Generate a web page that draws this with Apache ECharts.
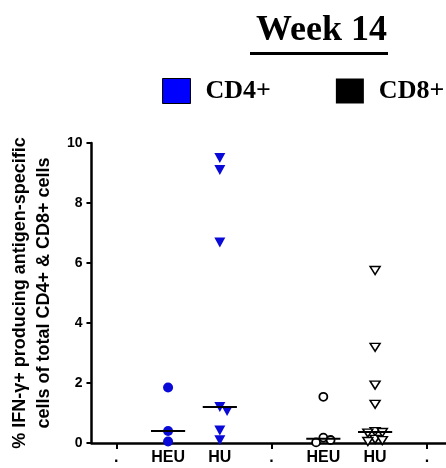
<!DOCTYPE html>
<html>
<head>
<meta charset="utf-8">
<script src="https://cdn.jsdelivr.net/npm/echarts@6/dist/echarts.min.js"></script>
<style>
  html, body { margin: 0; padding: 0; background: #fff; }
  #chart { width: 446px; height: 468px; }
</style>
</head>
<body>
<div id="chart"></div>
<script>
// x positions of the groups on the axis ("." are the separator ticks)
const categories = ['.', 'HEU', 'HU', '.', 'HEU', 'HU', '.'];
const separatorTicks = [0, 3, 6];

// % IFN-γ+ values
const cd4Heu = [1.85, 0.40, 0.05];
const cd4Hu = [9.5, 9.1, 6.68, 1.2, 1.07, 0.42, 0.09];
const cd8Heu = [1.54, 0.18, 0.1, 0.02];
const cd8Hu = [5.75, 3.19, 1.93, 1.29, 0.38, 0.35, 0.33, 0.12, 0.08, 0.05];

const yTicks = [0, 2, 4, 6, 8, 10];

const BLUE = '#0a0ad8';

const median = (vals) => {
  const s = [...vals].sort((a, b) => a - b);
  const m = Math.floor(s.length / 2);
  return s.length % 2 ? s[m] : (s[m - 1] + s[m]) / 2;
};

// simple column-scatter spread so overlapping points sit side by side
const spread = (vals, center) => {
  const pxX = 52, pxY = 30, step = 0.14, minDist = 7;
  const placed = [];
  [...vals].sort((a, b) => b - a).forEach((v) => {
    const tries = [0, step, -step, 2 * step, -2 * step];
    let off = 0;
    for (const t of tries) {
      const hit = placed.some(
        (p) => Math.hypot((p[0] - (center + t)) * pxX, (p[1] - v) * pxY) < minDist
      );
      if (!hit) { off = t; break; }
    }
    placed.push([center + off, v]);
  });
  return placed;
};

const medianLine = (vals, center) => {
  const m = median(vals);
  return [[center - 0.33, m], [center + 0.33, m]];
};

const groups = [
  { name: 'CD4+', vals: cd4Heu, x: 1, symbol: 'circle', size: 10, fill: BLUE, border: BLUE, bw: 0, rot: 0 },
  { name: 'CD4+', vals: cd4Hu, x: 2, symbol: 'triangle', size: [11, 10], fill: BLUE, border: BLUE, bw: 0, rot: 180 },
  { name: 'CD8+', vals: cd8Heu, x: 4, symbol: 'circle', size: 8, fill: '#fff', border: '#000', bw: 1.8, rot: 0 },
  { name: 'CD8+', vals: cd8Hu, x: 5, symbol: 'triangle', size: [10, 8], fill: '#fff', border: '#000', bw: 1.5, rot: 180 },
];

const series = [];
groups.forEach((g) => {
  series.push({
    name: g.name,
    type: 'scatter',
    symbol: g.symbol,
    symbolSize: g.size,
    symbolRotate: g.rot,
    itemStyle: { color: g.fill, borderColor: g.border, borderWidth: g.bw, opacity: 1 },
    data: spread(g.vals, g.x),
    z: 3,
  });
});
groups.forEach((g) => {
  series.push({
    name: 'median',
    type: 'line',
    symbol: 'none',
    lineStyle: { color: '#000', width: 2 },
    data: medianLine(g.vals, g.x),
    z: 4,
  });
});

const chart = echarts.init(document.getElementById('chart'));
chart.setOption({
  animation: false,
  backgroundColor: '#fff',
  title: {
    text: 'Week 14',
    left: 251,
    top: 8,
    textStyle: { fontFamily: 'Liberation Serif', fontWeight: 'bold', fontSize: 36, color: '#000' },
  },
  graphic: [
    { type: 'rect', shape: { x: 250, y: 52, width: 138, height: 3 }, style: { fill: '#000' } },
  ],
  legend: {
    orient: 'horizontal',
    left: 162,
    top: 78,
    width: 284,
    padding: 0,
    icon: 'rect',
    itemWidth: 28,
    itemHeight: 25,
    itemGap: 65,
    textStyle: {
      fontFamily: 'Liberation Serif', fontWeight: 'bold', fontSize: 26, color: '#000',
      padding: [0, 0, 0, 10],
    },
    data: [
      { name: 'CD4+', itemStyle: { color: '#0000ff', borderColor: '#000', borderWidth: 1 } },
      { name: 'CD8+', itemStyle: { color: '#000', borderColor: '#000', borderWidth: 0 } },
    ],
    selectedMode: false,
  },
  grid: { left: 90, right: 0, top: 143, bottom: 25 },
  xAxis: {
    type: 'value',
    min: -0.48,
    max: 6.37,
    splitLine: { show: false },
    axisLine: { onZero: false, lineStyle: { color: '#000', width: 2.5 } },
    axisTick: { customValues: separatorTicks, length: 6, lineStyle: { color: '#000', width: 2 } },
    axisLabel: {
      customValues: categories.map((c, i) => i),
      formatter: (v) => categories[v],
      margin: 7,
      fontFamily: 'Liberation Sans', fontWeight: 'bold', fontSize: 16, color: '#000',
    },
  },
  yAxis: {
    type: 'value',
    min: 0,
    max: 10,
    interval: 2,
    splitLine: { show: false },
    axisLine: { show: true, onZero: false, lineStyle: { color: '#000', width: 2.5 } },
    axisTick: { show: true, length: 5, lineStyle: { color: '#000', width: 2 } },
    axisLabel: {
      margin: 9,
      formatter: (v) => (yTicks.includes(v) ? String(v) : ''),
      fontFamily: 'Liberation Sans', fontWeight: 'bold', fontSize: 14, color: '#000',
    },
    name: '% IFN-γ+ producing antigen-specific\ncells of total CD4+ & CD8+ cells',
    nameLocation: 'middle',
    nameGap: 33,
    nameTextStyle: {
      fontFamily: 'Liberation Sans', fontWeight: 'bold', fontSize: 18, lineHeight: 24, color: '#000',
    },
  },
  series,
});
</script>
</body>
</html>
